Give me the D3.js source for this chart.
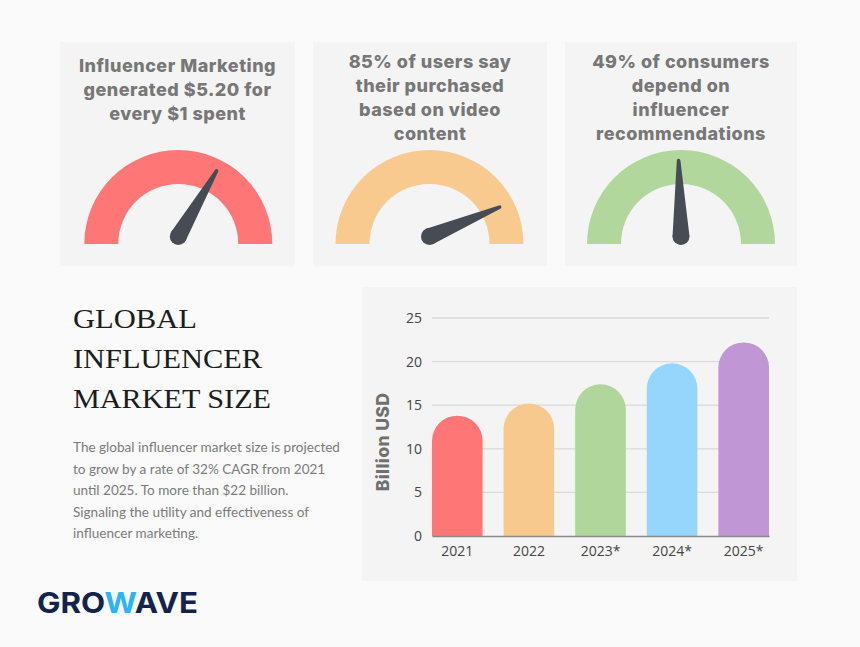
<!DOCTYPE html>
<html><head><meta charset="utf-8">
<script src="https://cdn.jsdelivr.net/npm/d3@7"></script>
<style>
html,body{margin:0;padding:0;background:#fafafa;}
svg{display:block;}
</style></head>
<body>
<svg id="c" width="860" height="647"></svg>
<script>
// ---- data ----
const gaugeTitles = [
  ["Influencer Marketing", "generated $5.20 for", "every $1 spent"],
  ["85% of users say", "their purchased", "based on video", "content"],
  ["49% of consumers", "depend on", "influencer", "recommendations"]
];
const gaugeValues = [0.668, 0.874, 0.49];
const gaugeColors = ["#ff7676", "#f9ca8f", "#b1d79d"];

const years = ["2021", "2022", "2023*", "2024*", "2025*"];
const marketSize = [13.8, 15.2, 17.4, 19.8, 22.2];
const barColors = ["#ff7676", "#f8c98e", "#b0d69c", "#97d6fc", "#c096d4"];
const yTicks = [0, 5, 10, 15, 20, 25];

const titleLines = ["GLOBAL", "INFLUENCER", "MARKET SIZE"];
const bodyLines = [
  "The global influencer market size is projected",
  "to grow by a rate of 32% CAGR from 2021",
  "until 2025. To more than $22 billion.",
  "Signaling the utility and effectiveness of",
  "influencer marketing."
];

const svg = d3.select("#c");
svg.append("rect").attr("width", 860).attr("height", 647).attr("fill", "#fafafa");

// ---- gauge cards ----
const cards = [
  {x: 60, w: 235, cx: 178.3, ty: 72},
  {x: 313, w: 234, cx: 429.5, ty: 68},
  {x: 565, w: 232, cx: 681, ty: 68}
];
const gScale = d3.scaleLinear().domain([0, 1]).range([-Math.PI / 2, Math.PI / 2]);
const arcGen = d3.arc().innerRadius(60).outerRadius(94);

cards.forEach((c, i) => {
  const g = svg.append("g");
  g.append("rect").attr("x", c.x).attr("y", 42).attr("width", c.w).attr("height", 224).attr("fill", "#f4f4f4");
  const t = g.append("text").attr("text-anchor", "middle")
    .attr("font-family", "Inter, 'Open Sans', sans-serif").attr("font-weight", 800)
    .attr("font-size", 18).attr("letter-spacing", 0.5).attr("fill", "#777777");
  gaugeTitles[i].forEach((line, k) => {
    t.append("tspan").attr("x", c.x + c.w / 2).attr("y", c.ty + k * 24).text(line);
  });
  const gg = g.append("g").attr("transform", `translate(${c.cx},244)`);
  gg.append("path").attr("d", arcGen({startAngle: gScale(0), endAngle: gScale(1)})).attr("fill", gaugeColors[i]);
  // needle
  const ang = gScale(gaugeValues[i]); // 0 = up
  const len = 76, r0 = 8.5, r1 = 1.8;
  const ux = Math.sin(ang), uy = -Math.cos(ang);
  const px = -uy, py = ux;
  const pcx = 0, pcy = -7.5;
  const tipx = pcx + ux * len, tipy = pcy + uy * len;
  const path = d3.path();
  path.moveTo(pcx + px * r0, pcy + py * r0);
  path.lineTo(tipx + px * r1, tipy + py * r1);
  path.arc(tipx, tipy, r1, Math.atan2(py, px), Math.atan2(py, px) + Math.PI, true);
  path.lineTo(pcx - px * r0, pcy - py * r0);
  path.closePath();
  gg.append("path").attr("d", path.toString()).attr("fill", "#474c54");
  gg.append("circle").attr("cx", pcx).attr("cy", pcy).attr("r", r0).attr("fill", "#474c54");
});

// ---- title & body ----
const title = svg.append("text").attr("font-family", "'Liberation Serif', 'DejaVu Serif', serif")
  .attr("font-size", 28).attr("fill", "#1c1c1c");
const titleWidths = [124, 189, 198];
titleLines.forEach((l, k) => {
  title.append("tspan").attr("x", 73).attr("y", 328 + k * 40).attr("textLength", titleWidths[k]).attr("lengthAdjust", "spacingAndGlyphs").text(l);
});
const body = svg.append("text").attr("font-family", "Lato, 'Noto Sans', sans-serif")
  .attr("font-size", 13.55).attr("fill", "#7a7a7a");
bodyLines.forEach((l, k) => {
  body.append("tspan").attr("x", 73).attr("y", 452 + k * 21.6).text(l);
});

// ---- bar chart ----
svg.append("rect").attr("x", 362).attr("y", 287).attr("width", 435).attr("height", 294).attr("fill", "#f4f4f4");
const x = d3.scaleBand().domain(years).range([432, 769]).paddingInner(0.293).paddingOuter(0);
const y = d3.scaleLinear().domain([0, 25]).range([536, 318]);

const grid = svg.append("g");
grid.selectAll("line").data(yTicks.filter(d => d > 0)).join("line")
  .attr("x1", 432).attr("x2", 769).attr("y1", d => y(d)).attr("y2", d => y(d))
  .attr("stroke", "#dadada").attr("stroke-width", 1.3);

const bw = x.bandwidth();
svg.append("g").selectAll("path").data(years).join("path")
  .attr("fill", (d, i) => barColors[i])
  .attr("d", (d, i) => {
    const x0 = x(d), top = y(marketSize[i]), r = bw / 2, b = y(0);
    const p = d3.path();
    p.moveTo(x0, b);
    p.lineTo(x0, top + r);
    p.arc(x0 + r, top + r, r, Math.PI, 2 * Math.PI);
    p.lineTo(x0 + bw, b);
    p.closePath();
    return p.toString();
  });

const yAxis = svg.append("g").attr("transform", "translate(432,0)")
  .call(d3.axisLeft(y).tickValues(yTicks).tickSize(0).tickPadding(10));
yAxis.select(".domain").remove();
yAxis.selectAll("text").attr("font-family", "'Open Sans', 'Noto Sans', sans-serif").attr("font-size", 14).attr("fill", "#444");

const xAxis = svg.append("g").attr("transform", "translate(0,536)")
  .call(d3.axisBottom(x).tickSize(0).tickPadding(10));
xAxis.select(".domain").attr("stroke", "#888").attr("stroke-width", 1.5);
xAxis.selectAll("text").attr("font-family", "'Open Sans', 'Noto Sans', sans-serif").attr("font-size", 14).attr("fill", "#444");

svg.append("text").attr("transform", "translate(389,442) rotate(-90)").attr("text-anchor", "middle")
  .attr("font-family", "Inter, 'Open Sans', sans-serif").attr("font-weight", 800).attr("font-size", 17.5)
  .attr("letter-spacing", 0.4).attr("fill", "#707070").text("Billion USD");

// ---- logo ----
const logo = svg.append("text").attr("x", 37).attr("y", 613)
  .attr("font-family", "Inter, 'Open Sans', sans-serif").attr("font-weight", 700).attr("font-size", 28.5)
  .attr("fill", "#14234a").attr("textLength", 161).attr("lengthAdjust", "spacingAndGlyphs");
logo.append("tspan").text("GRO");
logo.append("tspan").attr("fill", "#2bb5f2").text("W");
logo.append("tspan").text("AVE");
</script>
</body></html>
